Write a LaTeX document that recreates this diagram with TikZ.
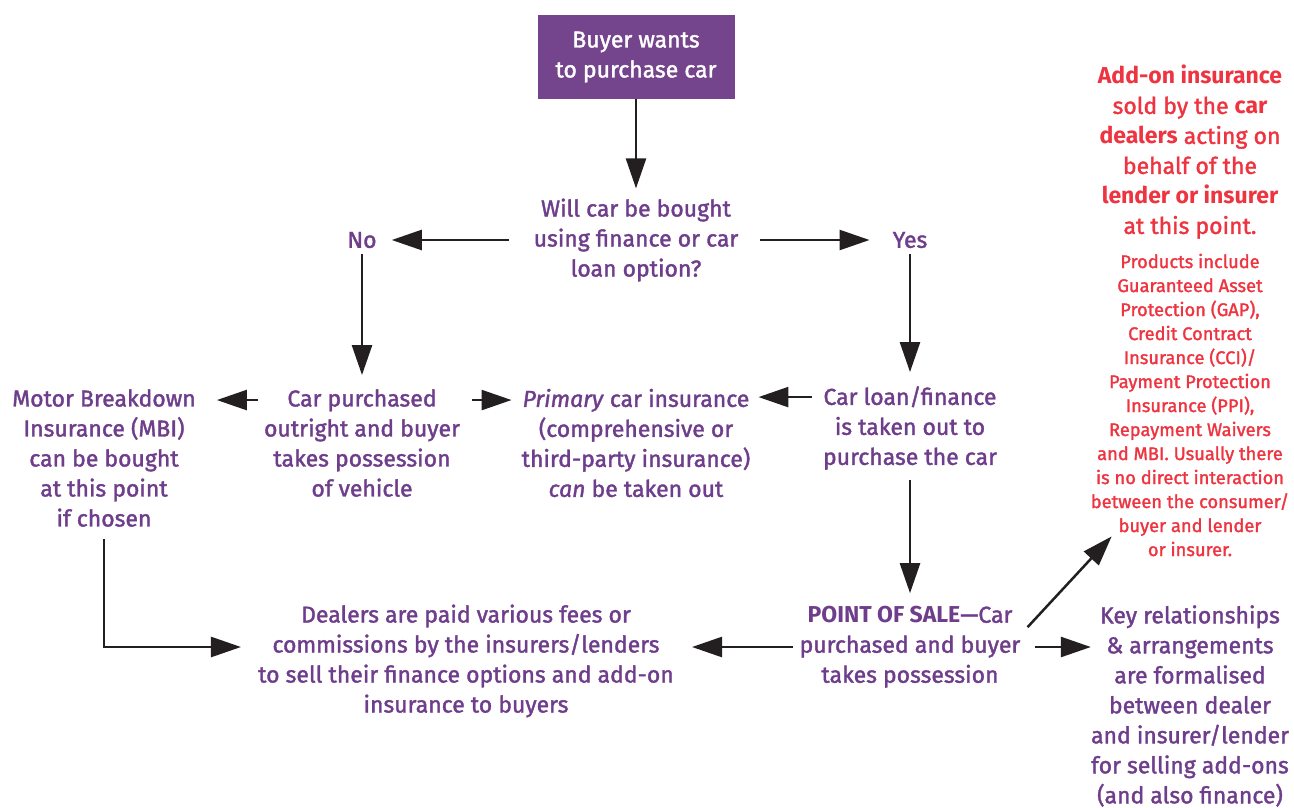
\documentclass[tikz,border=0pt]{standalone}
\usepackage{fontspec}
\setmainfont{Fira Sans}[UprightFeatures={FakeBold=1.6}, ItalicFeatures={FakeBold=1.6}]
\usepackage{xcolor}
\usetikzlibrary{arrows.meta, positioning}

\definecolor{boxpurple}{HTML}{74448C}
\definecolor{txtpurple}{HTML}{6E3D8B}
\definecolor{addred}{HTML}{EE3440}
\definecolor{arrowblack}{HTML}{231F20}

\tikzset{
  flowtext/.style={text=txtpurple, align=center, inner sep=0pt, font=\fontsize{23}{30}\selectfont},
  redtext/.style={text=addred, align=center, inner sep=0pt},
  flowarrow/.style={draw=arrowblack, line width=2.5pt, -{Triangle[length=30pt,width=20pt]}},
}

\begin{document}
\begin{tikzpicture}[x=1pt, y=-1pt]
\useasboundingbox (0,0) rectangle (1294,807);

% Nodes
\node[fill=boxpurple, text=white, minimum width=197pt, minimum height=84pt, align=center, inner sep=0pt, font=\fontsize{23}{30}\selectfont] (buyer) at (636,57) {Buyer wants\\to purchase car};
\node[flowtext] (question) at (636,240) {Will car be bought\\using finance or car\\loan option?};
\node[flowtext] (no) at (362,240) {No};
\node[flowtext] (yes) at (910,240) {Yes};
\node[flowtext] (mbi) at (104,458) {Motor Breakdown\\Insurance (MBI)\\can be bought\\at this point\\if chosen};
\node[flowtext] (outright) at (362,443) {Car purchased\\outright and buyer\\takes possession\\of vehicle};
\node[flowtext] (primary) at (636,443) {\textit{Primary} car insurance\\(comprehensive or\\third-party insurance)\\\textit{can} be taken out};
\node[flowtext] (loan) at (910,428) {Car loan/finance\\is taken out to\\purchase the car};
\node[flowtext] (pos) at (910,647) {\textbf{POINT OF SALE}—Car\\purchased and buyer\\takes possession};
\node[flowtext] (dealers) at (466,661) {Dealers are paid various fees or\\commissions by the insurers/lenders\\to sell their finance options and add-on\\insurance to buyers};
\node[flowtext] (key) at (1190,706) {Key relationships\\\& arrangements\\are formalised\\between dealer\\and insurer/lender\\for selling add-ons\\(and also finance)};
\node[redtext, font=\fontsize{23}{30}\selectfont] (addon) at (1190,152) {\textbf{Add-on insurance}\\sold by the \textbf{car}\\\textbf{dealers} acting on\\behalf of the\\\textbf{lender or insurer}\\at this point.};
\node[redtext, font=\fontsize{18.3}{24}\selectfont] (products) at (1190,405) {Products include\\Guaranteed Asset\\Protection (GAP),\\Credit Contract\\Insurance (CCI)/\\Payment Protection\\Insurance (PPI),\\Repayment Waivers\\and MBI. Usually there\\is no direct interaction\\between the consumer/\\buyer and lender\\or insurer.};

% Arrows
\draw[flowarrow, shorten >=10pt] (buyer) -- (question);
\draw[flowarrow, shorten <=25pt, shorten >=15pt] (question) -- (no);
\draw[flowarrow, shorten <=22pt, shorten >=23pt] (question) -- (yes);
\draw[flowarrow, shorten <=6pt, shorten >=14pt] (no) -- (no |- outright.north);
\draw[flowarrow, shorten <=6pt, shorten >=14pt] (yes) -- (yes |- loan.north);
\draw[flowarrow, shorten <=6pt, shorten >=21pt] ([yshift=-11pt]outright.north west) -- ([yshift=-11pt]outright.north west -| mbi.east);
\draw[flowarrow, shorten <=12pt, shorten >=10pt] ([yshift=-11pt]outright.north east) -- ([yshift=-11pt]outright.north east -| primary.west);
\draw[flowarrow, shorten <=11pt, shorten >=8pt] ([yshift=-11pt]loan.north west) -- ([yshift=-11pt]loan.north west -| primary.east);
\draw[flowarrow, shorten <=10pt, shorten >=13pt] (loan) -- (pos);
\draw[flowarrow, shorten <=12pt, shorten >=17pt] (mbi.south) |- ([yshift=14pt]dealers.west);
\draw[flowarrow, shorten <=6pt, shorten >=18pt] (pos.west) -- (pos.west -| dealers.east);
\draw[flowarrow, shorten <=14pt] (pos.east) -- (pos.east -| key.west);
\draw[flowarrow] ([xshift=7pt,yshift=-21pt]pos.north east) -- ([xshift=21pt,yshift=20pt]products.south west);
\end{tikzpicture}
\end{document}
